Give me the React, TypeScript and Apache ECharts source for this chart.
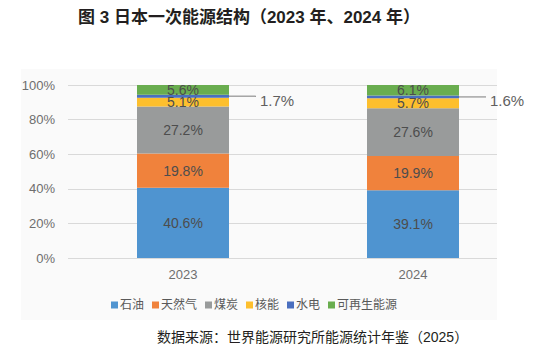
import React, { useEffect, useRef } from "react";
import * as echarts from "echarts";

const years = ["2023", "2024"];
const seriesNames = ["石油", "天然气", "煤炭", "核能", "水电", "可再生能源"];
const oil = [40.6, 39.1];
const gas = [19.8, 19.9];
const coal = [27.2, 27.6];
const nuclear = [5.1, 5.7];
const hydro = [1.7, 1.6];
const renewable = [5.6, 6.1];
const yTicks = [0, 20, 40, 60, 80, 100];

const colors = ["#4f94d0", "#f0823c", "#999b9b", "#fdbf2d", "#4a6fbf", "#69ad4f"];
const FONT = '"Liberation Sans", Arial, "Noto Sans CJK SC", sans-serif';

export default function App() {
  const ref = useRef<HTMLDivElement>(null);
  useEffect(() => {
    document.body.style.margin = "0";
    const chart = echarts.init(ref.current!, null, { renderer: "svg" });
    const values = [oil, gas, coal, nuclear, hydro, renewable];
    const series: any[] = values.map((v, i) => {
      const isHydro = i === 4;
      return {
        name: seriesNames[i],
        type: "bar",
        stack: "total",
        xAxisIndex: 0,
        yAxisIndex: 0,
        barWidth: 92,
        data: v,
        itemStyle: { color: colors[i] },
        label: isHydro
          ? {
              show: true,
              position: "right",
              distance: 0,
              formatter: (p: any) => "{l|}{v|" + p.value.toFixed(1) + "%}",
              rich: {
                l: { width: 27, height: 1, backgroundColor: "#7a7a7a" },
                v: {
                  fontSize: 15,
                  color: "#5f5f5f",
                  fontFamily: FONT,
                  padding: [8, 0, 0, 4],
                },
              },
            }
          : {
              show: true,
              position: "inside",
              formatter: (p: any) => p.value.toFixed(1) + "%",
              fontSize: 14,
              color: "#4d4d4d",
              fontFamily: FONT,
            },
      };
    });
    chart.setOption({
      animation: false,
      textStyle: { fontFamily: FONT },
      graphic: [
        {
          type: "rect",
          z: -10,
          silent: true,
          shape: { x: 21, y: 69, width: 476, height: 251 },
          style: { fill: "#fafafa" },
        },
        {
          type: "text",
          left: 78,
          top: 9,
          style: {
            text: "图 3 日本一次能源结构（2023 年、2024 年）",
            fontSize: 17,
            fontWeight: "bold",
            fill: "#231f20",
            fontFamily: FONT,
          },
        },
        {
          type: "text",
          left: 157,
          top: 330,
          style: {
            text: "数据来源：世界能源研究所能源统计年鉴（2025）",
            fontSize: 14,
            fill: "#231f20",
            fontFamily: FONT,
          },
        },
      ],
      legend: {
        data: seriesNames,
        left: 106,
        top: 294,
        itemWidth: 7,
        itemHeight: 7,
        itemGap: 8,
        icon: "rect",
        textStyle: { fontSize: 12, color: "#595959", padding: [0, 0, 0, -3] },
      },
      grid: [
        { left: 68, right: 26, top: 85, bottom: 100 },
        { left: 68, right: 57, top: 85, bottom: 100 },
      ],
      xAxis: [
        {
          type: "category",
          gridIndex: 0,
          data: years,
          axisLine: { show: false },
          axisTick: { show: false },
          axisLabel: { fontSize: 13, color: "#6e6e6e", margin: 10 },
          splitLine: { show: false },
        },
        { type: "value", gridIndex: 1, min: 0, max: 1, show: false },
      ],
      yAxis: [
        { type: "value", gridIndex: 0, min: 0, max: 100, show: false },
        {
          type: "value",
          gridIndex: 1,
          min: yTicks[0],
          max: yTicks[yTicks.length - 1],
          interval: 20,
          axisLine: { show: false },
          axisTick: { show: false },
          axisLabel: { formatter: "{value}%", fontSize: 13, color: "#6e6e6e", margin: 13 },
          splitLine: { lineStyle: { color: "#d9d9d9", width: 1 } },
        },
      ],
      series,
    });
    return () => chart.dispose();
  }, []);
  return <div ref={ref} style={{ width: 554, height: 358 }} />;
}
